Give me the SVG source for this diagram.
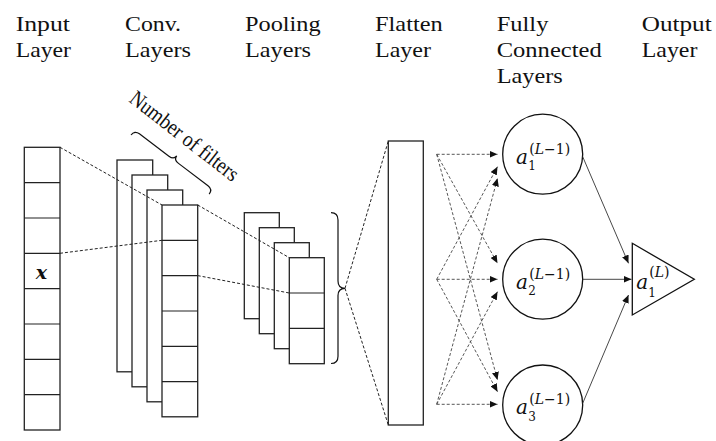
<svg xmlns="http://www.w3.org/2000/svg" width="716" height="441" viewBox="0 0 716 441">
  <style>
    .lbl { font-family: "Liberation Serif", "Times New Roman", serif; font-size: 22px; fill: #111; }
    .box { fill: #fff; stroke: #222; stroke-width: 1.3; }
    .cell { stroke: #222; stroke-width: 1.2; fill: none; }
    .neuron { fill: #fff; stroke: #111; stroke-width: 1.3; }
    .dash { fill: none; stroke: #222; stroke-width: 1; stroke-dasharray: 3 2; }
    .dasharrow { fill: none; stroke: #444; stroke-width: 0.9; stroke-dasharray: 3 2; marker-end: url(#head); }
    .solid { fill: none; stroke: #333; stroke-width: 0.9; marker-end: url(#head); }
    .brace { fill: none; stroke: #111; stroke-width: 1.2; }
    .math { font-family: "DejaVu Serif", "Liberation Serif", serif; fill: #111; }
    .ma { font-size: 20px; font-style: italic; }
    .sup { font-size: 14px; }
    .sub { font-size: 12px; }
  </style>
  <defs>
    <marker id="head" markerUnits="userSpaceOnUse" markerWidth="9" markerHeight="7" refX="8" refY="3.5" orient="auto">
      <path d="M0,0 L8,3.5 L0,7 z" fill="#111"/>
    </marker>
  </defs>

  <rect width="716" height="441" fill="#fff"/>

  <!-- column headings -->
  <g id="headings">
    <text class="lbl" x="15.7" y="31" textLength="54.3" lengthAdjust="spacingAndGlyphs">Input</text>
    <text class="lbl" x="15.7" y="57" textLength="55.3" lengthAdjust="spacingAndGlyphs">Layer</text>
    <text class="lbl" x="125" y="31" textLength="56" lengthAdjust="spacingAndGlyphs">Conv.</text>
    <text class="lbl" x="125" y="57" textLength="66" lengthAdjust="spacingAndGlyphs">Layers</text>
    <text class="lbl" x="245" y="31" textLength="75.7" lengthAdjust="spacingAndGlyphs">Pooling</text>
    <text class="lbl" x="245" y="57" textLength="66" lengthAdjust="spacingAndGlyphs">Layers</text>
    <text class="lbl" x="375" y="31" textLength="67.7" lengthAdjust="spacingAndGlyphs">Flatten</text>
    <text class="lbl" x="375" y="57" textLength="56" lengthAdjust="spacingAndGlyphs">Layer</text>
    <text class="lbl" x="496.7" y="31" textLength="51.7" lengthAdjust="spacingAndGlyphs">Fully</text>
    <text class="lbl" x="496.7" y="57" textLength="105" lengthAdjust="spacingAndGlyphs">Connected</text>
    <text class="lbl" x="496.7" y="82.5" textLength="66" lengthAdjust="spacingAndGlyphs">Layers</text>
    <text class="lbl" x="641.7" y="31" textLength="70" lengthAdjust="spacingAndGlyphs">Output</text>
    <text class="lbl" x="641.7" y="57" textLength="55.7" lengthAdjust="spacingAndGlyphs">Layer</text>
  </g>

  <!-- input vector: 8 cells -->
  <g id="input">
    <rect class="box" x="24.3" y="147.3" width="35.7" height="282.7"/>
    <path class="cell" d="M24.3,182.6H60M24.3,218H60M24.3,253.3H60M24.3,288.6H60M24.3,324H60M24.3,359.3H60M24.3,394.6H60"/>
    <text class="math" x="41.5" y="278.5" text-anchor="middle" font-size="19" font-style="italic" font-weight="bold">x</text>
  </g>

  <!-- stack of convolution feature maps -->
  <g id="conv">
    <rect class="box" x="117" y="160" width="35.7" height="211.8"/>
    <rect class="box" x="132" y="175" width="35.7" height="211.8"/>
    <rect class="box" x="147" y="190" width="35.7" height="211.8"/>
    <rect class="box" x="162" y="205" width="35.7" height="211.8"/>
    <path class="cell" d="M162,240.3H197.7M162,275.6H197.7M162,311H197.7M162,346.3H197.7M162,381.6H197.7"/>
  </g>

  <!-- filter count annotation -->
  <g id="filters">
    <path class="brace" transform="translate(131,135) rotate(37.1)" d="M0,0 Q0,-6 6,-6 L43,-6 Q49,-6 49,-11 Q49,-6 55,-6 L92,-6 Q98,-6 98,0"/>
    <text class="lbl" transform="translate(128,101) rotate(38)" font-size="16" textLength="132" lengthAdjust="spacingAndGlyphs">Number of filters</text>
  </g>

  <!-- stack of pooled maps -->
  <g id="pooling">
    <rect class="box" x="244.3" y="212.7" width="35" height="106"/>
    <rect class="box" x="259.3" y="227.7" width="35" height="106"/>
    <rect class="box" x="274.3" y="242.7" width="35" height="106"/>
    <rect class="box" x="289.3" y="257.7" width="35" height="106"/>
    <path class="cell" d="M289.3,293H324.3M289.3,328.3H324.3"/>
    <path class="brace" d="M331,212.7 Q338,212.7 338,220 L338,281 Q338,288.3 345,288.3 Q338,288.3 338,295.6 L338,356.2 Q338,363.5 331,363.5"/>
  </g>

  <!-- flattened vector -->
  <g id="flatten">
    <rect class="box" x="388.3" y="141" width="35" height="284"/>
  </g>

  <!-- fully connected neurons -->
  <g id="fc1">
    <circle class="neuron" cx="542.7" cy="154.2" r="40"/>
    <text class="math ma" x="516" y="163.5">a</text>
    <text class="math sup" x="529.3" y="153.5">(<tspan font-style="italic">L</tspan>−1)</text>
    <text class="math sub" x="528.3" y="170">1</text>
  </g>
  <g id="fc2">
    <circle class="neuron" cx="542.7" cy="279.2" r="40"/>
    <text class="math ma" x="516" y="288.5">a</text>
    <text class="math sup" x="529.3" y="278.5">(<tspan font-style="italic">L</tspan>−1)</text>
    <text class="math sub" x="528.3" y="295">2</text>
  </g>
  <g id="fc3">
    <circle class="neuron" cx="542.7" cy="405" r="40"/>
    <text class="math ma" x="516" y="414.3">a</text>
    <text class="math sup" x="529.3" y="404.3">(<tspan font-style="italic">L</tspan>−1)</text>
    <text class="math sub" x="528.3" y="420.8">3</text>
  </g>

  <!-- output unit -->
  <g id="output">
    <path class="neuron" d="M632.3,243.3 L694.3,279.3 L632.3,315 Z"/>
    <text class="math ma" x="636.2" y="288.5">a</text>
    <text class="math sup" x="649.3" y="277">(<tspan font-style="italic">L</tspan>)</text>
    <text class="math sub" x="648.3" y="296.5">1</text>
  </g>

  <!-- connectors -->
  <g id="connectors">
    <line class="dash" x1="60" y1="147.3" x2="162" y2="205"/>
    <line class="dash" x1="60" y1="253.3" x2="162" y2="240.3"/>
    <line class="dash" x1="197.7" y1="205" x2="289.3" y2="257.7"/>
    <line class="dash" x1="197.7" y1="275.6" x2="289.3" y2="293"/>
    <line class="dash" x1="345" y1="288.3" x2="388.3" y2="141"/>
    <line class="dash" x1="345" y1="288.3" x2="388.3" y2="425"/>

    <line class="dasharrow" x1="436.7" y1="154.3" x2="497.5" y2="154.3"/>
    <line class="dasharrow" x1="436.7" y1="154.3" x2="497.5" y2="263.3"/>
    <line class="dasharrow" x1="436.7" y1="154.3" x2="497.5" y2="380"/>
    <line class="dasharrow" x1="436.7" y1="279.3" x2="497.5" y2="166.7"/>
    <line class="dasharrow" x1="436.7" y1="279.3" x2="497.5" y2="279.3"/>
    <line class="dasharrow" x1="436.7" y1="279.3" x2="497.5" y2="391.7"/>
    <line class="dasharrow" x1="436.7" y1="404.3" x2="497.5" y2="178.3"/>
    <line class="dasharrow" x1="436.7" y1="404.3" x2="497.5" y2="291.7"/>
    <line class="dasharrow" x1="436.7" y1="404.3" x2="497.5" y2="404.3"/>

    <line class="solid" x1="582.7" y1="156.7" x2="628.5" y2="263.3"/>
    <line class="solid" x1="582.7" y1="279.3" x2="631.5" y2="279.3"/>
    <line class="solid" x1="582.7" y1="403.3" x2="628.5" y2="295"/>
  </g>
</svg>
